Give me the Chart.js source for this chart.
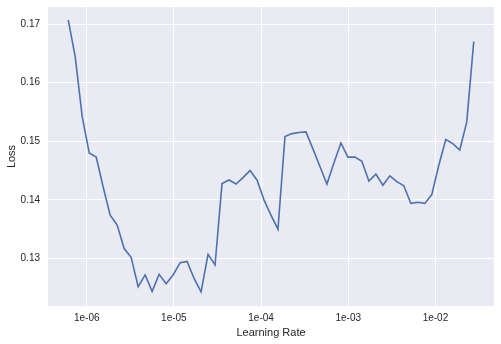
<!DOCTYPE html>
<html>
<head>
<meta charset="utf-8">
<script src="https://cdn.jsdelivr.net/npm/chart.js@4/dist/chart.umd.min.js"></script>
<style>
  html, body { margin: 0; padding: 0; background: #fff; }
</style>
</head>
<body>
<canvas id="myChart" width="501" height="344"></canvas>
<script>
// learning rates (x) and the loss (y)
const learningRates = [
  6.138e-7, 7.383e-7, 8.880e-7, 1.068e-6, 1.285e-6, 1.545e-6, 1.859e-6, 2.236e-6, 2.689e-6, 3.234e-6,
  3.890e-6, 4.679e-6, 5.628e-6, 6.769e-6, 8.142e-6, 9.795e-6, 1.178e-5, 1.417e-5, 1.704e-5, 2.050e-5,
  2.466e-5, 2.966e-5, 3.567e-5, 4.291e-5, 5.161e-5, 6.209e-5, 7.468e-5, 8.982e-5, 1.080e-4, 1.299e-4,
  1.563e-4, 1.880e-4, 2.261e-4, 2.720e-4, 3.272e-4, 3.936e-4, 4.734e-4, 5.694e-4, 6.849e-4, 8.238e-4,
  9.908e-4, 1.192e-3, 1.434e-3, 1.724e-3, 2.074e-3, 2.495e-3, 3.001e-3, 3.609e-3, 4.341e-3, 5.222e-3,
  6.281e-3, 7.555e-3, 9.087e-3, 1.093e-2, 1.315e-2, 1.581e-2, 1.902e-2, 2.288e-2, 2.752e-2
];
const losses = [
  0.1707, 0.1644, 0.1542, 0.1480, 0.1473, 0.1422, 0.1374, 0.1357, 0.1317, 0.1302,
  0.1252, 0.1272, 0.1244, 0.1273, 0.1257, 0.1272, 0.1293, 0.1295, 0.1266, 0.1243,
  0.1307, 0.1289, 0.1428, 0.1434, 0.1427, 0.1438, 0.1450, 0.1434, 0.1400, 0.1374,
  0.1350, 0.1508, 0.1513, 0.1515, 0.1516, 0.1487, 0.1457, 0.1427, 0.1463, 0.1497,
  0.1473, 0.1473, 0.1466, 0.1432, 0.1444, 0.1425, 0.1441, 0.1431, 0.1424, 0.1394,
  0.1396, 0.1394, 0.1409, 0.1459, 0.1503, 0.1496, 0.1485, 0.1533, 0.1670
];
const xTicks = [1e-6, 1e-5, 1e-4, 1e-3, 1e-2];
const xTickLabels = ['1e-06', '1e-05', '1e-04', '1e-03', '1e-02'];
const yTicks = [0.13, 0.14, 0.15, 0.16, 0.17];

const ctx = document.getElementById('myChart');

const plotBg = {
    id: 'plotBg',
    beforeDraw(chart) {
        const a = chart.chartArea;
        chart.ctx.save();
        chart.ctx.fillStyle = '#EAEAF2';
        chart.ctx.fillRect(a.left, a.top, a.right - a.left, a.bottom - a.top);
        chart.ctx.restore();
    }
};

new Chart(ctx, {
    type: 'line',
    data: {
        datasets: [{
            data: learningRates.map((lr, i) => ({ x: lr, y: losses[i] })),
            borderColor: '#4C72B0',
            borderWidth: 1.6,
            pointRadius: 0,
            tension: 0,
            fill: false
        }]
    },
    options: {
        responsive: false,
        animation: false,
        layout: { padding: { top: 7, right: 7, left: 0, bottom: 0 } },
        plugins: {
            legend: { display: false },
            tooltip: { enabled: false }
        },
        scales: {
            x: {
                type: 'logarithmic',
                min: 3.597e-7,
                max: 4.699e-2,
                afterBuildTicks: (s) => { s.ticks = xTicks.map(v => ({ value: v })); },
                afterFit: (s) => { s.height = 38; s.paddingLeft = 0; s.paddingRight = 0; },
                grid: { color: '#ffffff', lineWidth: 1, drawTicks: false },
                border: { display: false },
                ticks: {
                    autoSkip: false,
                    maxRotation: 0,
                    padding: 6,
                    color: '#262626',
                    font: { family: 'Liberation Sans', size: 10 },
                    callback: (v) => { const i = xTicks.indexOf(v); return i >= 0 ? xTickLabels[i] : ''; }
                },
                title: {
                    display: true,
                    text: 'Learning Rate',
                    color: '#262626',
                    font: { family: 'Liberation Sans', size: 11 },
                    padding: { top: 0, bottom: 4 }
                }
            },
            y: {
                min: 0.1219,
                max: 0.1729,
                afterBuildTicks: (s) => { s.ticks = yTicks.map(v => ({ value: v })); },
                afterFit: (s) => { s.width = 48; s.paddingTop = 0; s.paddingBottom = 0; },
                grid: { color: '#ffffff', lineWidth: 1, drawTicks: false },
                border: { display: false },
                ticks: {
                    padding: 8,
                    color: '#262626',
                    font: { family: 'Liberation Sans', size: 10 },
                    callback: (v) => v.toFixed(2)
                },
                title: {
                    display: true,
                    text: 'Loss',
                    color: '#262626',
                    font: { family: 'Liberation Sans', size: 11 },
                    padding: { top: 5, bottom: 0 }
                }
            }
        }
    },
    plugins: [plotBg]
});
</script>
</body>
</html>
